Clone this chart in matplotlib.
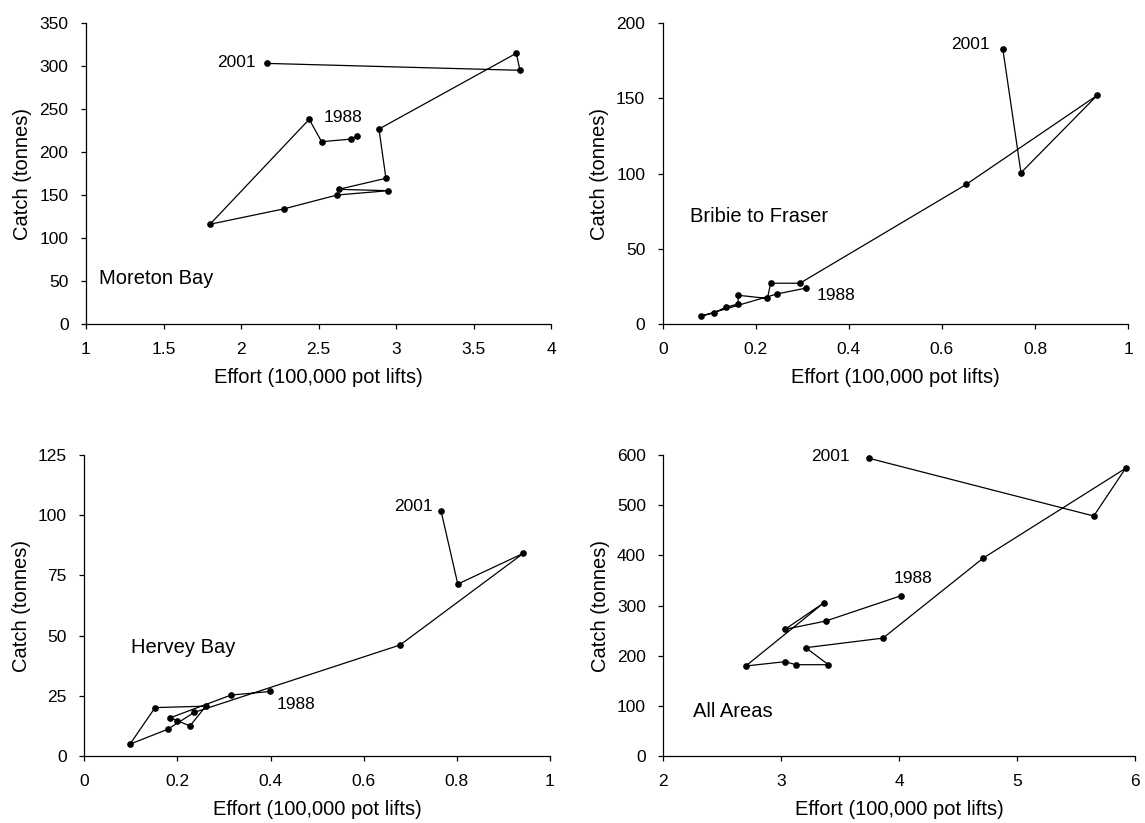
import matplotlib
matplotlib.use('Agg')
import matplotlib.pyplot as plt

plt.rcParams['font.family'] = ['Liberation Sans', 'DejaVu Sans']

years = list(range(1988, 2002))

# Moreton Bay
mb_effort = [2.746, 2.71, 2.52, 2.44, 1.80, 2.28, 2.62, 2.95, 2.63, 2.935, 2.89, 3.776, 3.80, 2.17]
mb_catch = [218.6, 215, 212, 238, 116, 134, 150, 155, 156.6, 169.4, 226.7, 314.8, 295, 303]

# Bribie to Fraser
bf_effort = [0.307, 0.246, 0.083, 0.111, 0.135, 0.162, 0.162, 0.225, 0.232, 0.295, 0.652, 0.934, 0.770, 0.731]
bf_catch = [23.8, 20.0, 5.3, 7.5, 11.1, 13.3, 19.1, 17.0, 27.1, 27.1, 92.7, 152, 100.5, 182.7]

# Hervey Bay
hb_effort = [0.399, 0.315, 0.185, 0.200, 0.227, 0.261, 0.152, 0.098, 0.179, 0.236, 0.678, 0.943, 0.802, 0.766]
hb_catch = [26.8, 25.3, 15.9, 14.6, 12.5, 20.7, 20.1, 4.9, 11.1, 18.1, 46.1, 84.2, 71.4, 101.8]

# All areas
aa_effort = [4.016, 3.377, 3.032, 3.363, 2.699, 3.032, 3.125, 3.40, 3.208, 3.863, 4.714, 5.92, 5.65, 3.745]
aa_catch = [319.5, 269, 252.5, 305.6, 179.4, 188, 182, 182, 215.9, 235, 394.7, 573.4, 478.4, 593.4]

W, H = 1145, 823
fig = plt.figure(figsize=(W / 100, H / 100), dpi=100)

panels = [
    # effort, catch, area name, axes rect (px), xlim, xticks, ylim, yticks, name pos,
    # offset of 1988 label, alignment, offset of 2001 label
    (mb_effort, mb_catch, 'Moreton Bay', (86, 23, 465, 301), (1, 4),
     [1, 1.5, 2, 2.5, 3, 3.5, 4], (0, 350), range(0, 351, 50), (0.028, 0.15),
     (-14, 19), 'center', (-12, 1)),
    (bf_effort, bf_catch, 'Bribie to Fraser', (662.7, 23, 465.3, 301), (0, 1),
     [0, 0.2, 0.4, 0.6, 0.8, 1], (0, 200), range(0, 201, 50), (0.059, 0.356),
     (11, -7), 'left', (-13, 5)),
    (hb_effort, hb_catch, 'Hervey Bay', (84.3, 455, 465.7, 301), (0, 1),
     [0, 0.2, 0.4, 0.6, 0.8, 1], (0, 125), range(0, 126, 25), (0.10, 0.359),
     (7, -13), 'left', (-8, 4)),
    (aa_effort, aa_catch, 'All Areas', (663.3, 455, 471.7, 301), (2, 6),
     [2, 3, 4, 5, 6], (0, 600), range(0, 601, 100), (0.063, 0.147),
     (12, 17), 'center', (-19, 2)),
]

for (ex, cy, name, rect, xlim, xticks, ylim, yticks, name_pos,
     off88, ha88, off01) in panels:
    left, top, width, height = rect
    ax = fig.add_axes([left / W, 1 - (top + height) / H, width / W, height / H])
    ax.plot(ex, cy, color='black', linewidth=0.9, marker='o', markersize=3.8)

    ax.set_xlim(*xlim)
    ax.set_ylim(*ylim)
    ax.set_xticks(xticks)
    ax.set_xticklabels([f'{t:g}' for t in xticks])
    ax.set_yticks(list(yticks))

    for side in ['top', 'right']:
        ax.spines[side].set_visible(False)
    for side in ['left', 'bottom']:
        ax.spines[side].set_linewidth(0.9)
    ax.tick_params(direction='out', length=3.6, width=0.9, labelsize=12.5)
    ax.tick_params(axis='x', pad=9)
    ax.tick_params(axis='y', pad=9)

    ax.set_xlabel('Effort (100,000 pot lifts)', fontsize=14.5, labelpad=8)
    ax.set_ylabel('Catch (tonnes)', fontsize=14.5, labelpad=5)

    ax.text(name_pos[0], name_pos[1], name, transform=ax.transAxes,
            fontsize=14.5, ha='left', va='center')

    ax.annotate(str(years[0]), (ex[0], cy[0]), xytext=off88,
                textcoords='offset pixels', ha=ha88, va='center', fontsize=12.5)
    ax.annotate(str(years[-1]), (ex[-1], cy[-1]), xytext=off01,
                textcoords='offset pixels', ha='right', va='center', fontsize=12.5)

fig.savefig('out.png', dpi=100, facecolor='white')
